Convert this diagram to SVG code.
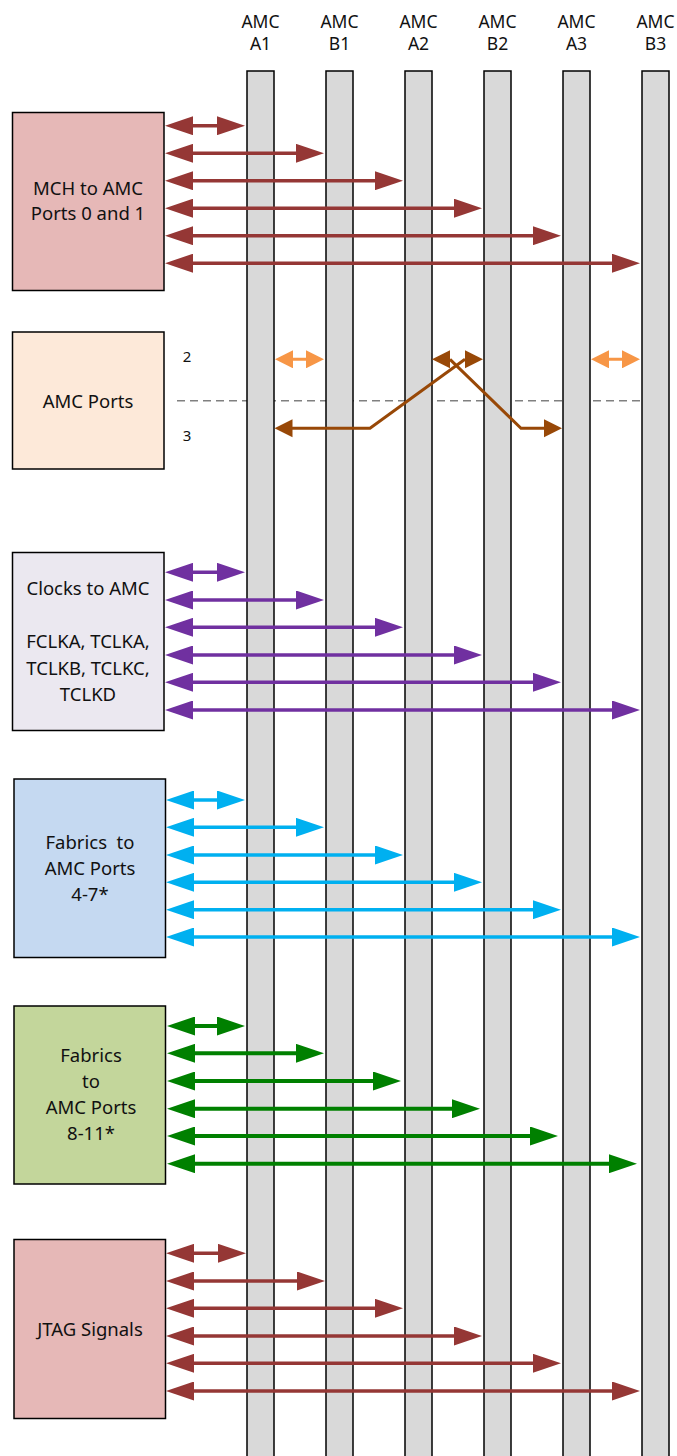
<svg xmlns="http://www.w3.org/2000/svg" width="677" height="1456" viewBox="0 0 677 1456">
<style>
  text { font-family: "Noto Sans", "Open Sans", sans-serif; fill: #111; text-anchor: middle; }
  .hdr { font-size: 17.5px; }
  .lbl { font-size: 18.5px; }
  .num { font-size: 15px; }
  .box { stroke: #000; stroke-width: 1.5; }
  .bar { fill: #D9D9D9; stroke: #000; stroke-width: 1.5; }
  .red { stroke: #953735; stroke-width: 3.5; fill: none; marker-start: url(#mRed); marker-end: url(#mRed); }
  .pur { stroke: #7030A0; stroke-width: 3.5; fill: none; marker-start: url(#mPur); marker-end: url(#mPur); }
  .blu { stroke: #00B0F0; stroke-width: 3.5; fill: none; marker-start: url(#mBlu); marker-end: url(#mBlu); }
  .grn { stroke: #008000; stroke-width: 4; fill: none; marker-start: url(#mGrn); marker-end: url(#mGrn); }
  .org { stroke: #F79646; stroke-width: 3; fill: none; marker-start: url(#mOrg); marker-end: url(#mOrg); }
  .brn { stroke: #984807; stroke-width: 3; fill: none; }
</style>
<defs>
  <marker id="mRed" markerUnits="userSpaceOnUse" markerWidth="28" markerHeight="19" refX="18" refY="9.5" orient="auto-start-reverse"><path d="M0,0 L28,9.5 L0,19 z" fill="#953735"/></marker>
  <marker id="mPur" markerUnits="userSpaceOnUse" markerWidth="28" markerHeight="19" refX="18" refY="9.5" orient="auto-start-reverse"><path d="M0,0 L28,9.5 L0,19 z" fill="#7030A0"/></marker>
  <marker id="mBlu" markerUnits="userSpaceOnUse" markerWidth="28" markerHeight="19" refX="18" refY="9.5" orient="auto-start-reverse"><path d="M0,0 L28,9.5 L0,19 z" fill="#00B0F0"/></marker>
  <marker id="mGrn" markerUnits="userSpaceOnUse" markerWidth="28" markerHeight="19" refX="18" refY="9.5" orient="auto-start-reverse"><path d="M0,0 L28,9.5 L0,19 z" fill="#008000"/></marker>
  <marker id="mOrg" markerUnits="userSpaceOnUse" markerWidth="18" markerHeight="18" refX="12" refY="9" orient="auto-start-reverse"><path d="M0,0 L18,9 L0,18 z" fill="#F79646"/></marker>
</defs>
<rect width="677" height="1456" fill="#fff"/>

<g id="headers">
  <text class="hdr" x="260.5" y="28">AMC</text><text class="hdr" x="260.5" y="50">A1</text>
  <text class="hdr" x="339.5" y="28">AMC</text><text class="hdr" x="339.5" y="50">B1</text>
  <text class="hdr" x="418.5" y="28">AMC</text><text class="hdr" x="418.5" y="50">A2</text>
  <text class="hdr" x="497.5" y="28">AMC</text><text class="hdr" x="497.5" y="50">B2</text>
  <text class="hdr" x="576.5" y="28">AMC</text><text class="hdr" x="576.5" y="50">A3</text>
  <text class="hdr" x="655.5" y="28">AMC</text><text class="hdr" x="655.5" y="50">B3</text>
</g>

<line id="divider" x1="177" y1="400.7" x2="640" y2="400.7" stroke="#808080" stroke-width="1.5" stroke-dasharray="8,5"/>

<g id="bars">
  <rect id="barA1" class="bar" x="247" y="71" width="27" height="1400"/>
  <rect id="barB1" class="bar" x="326" y="71" width="27" height="1400"/>
  <rect id="barA2" class="bar" x="405" y="71" width="27" height="1400"/>
  <rect id="barB2" class="bar" x="484" y="71" width="27" height="1400"/>
  <rect id="barA3" class="bar" x="563" y="71" width="27" height="1400"/>
  <rect id="barB3" class="bar" x="642" y="71" width="27" height="1400"/>
</g>

<g id="mch">
  <rect class="box" x="12.5" y="112.5" width="151.5" height="178" fill="#E6B8B7"/>
  <text class="lbl" x="88" y="195">MCH to AMC</text>
  <text class="lbl" x="88" y="220">Ports 0 and 1</text>
</g>
<g id="amcports">
  <rect class="box" x="12.5" y="332" width="151.5" height="137" fill="#FDE9D9"/>
  <text class="lbl" x="88" y="408">AMC Ports</text>
  <text class="num" x="187" y="362">2</text>
  <text class="num" x="187" y="440.5">3</text>
</g>
<g id="clocks">
  <rect class="box" x="12.5" y="552.5" width="151.5" height="178" fill="#EBE8F0"/>
  <text class="lbl" x="88" y="595">Clocks to AMC</text>
  <text class="lbl" x="88" y="648">FCLKA, TCLKA,</text>
  <text class="lbl" x="88" y="675">TCLKB, TCLKC,</text>
  <text class="lbl" x="88" y="701">TCLKD</text>
</g>
<g id="fabrics47">
  <rect class="box" x="14" y="779" width="151.5" height="178.5" fill="#C5D9F1"/>
  <text class="lbl" x="90" y="849" xml:space="preserve">Fabrics  to</text>
  <text class="lbl" x="90" y="875">AMC Ports</text>
  <text class="lbl" x="90" y="901">4-7*</text>
</g>
<g id="fabrics811">
  <rect class="box" x="14" y="1006" width="151.5" height="178" fill="#C3D69B"/>
  <text class="lbl" x="91" y="1062">Fabrics</text>
  <text class="lbl" x="91" y="1088">to</text>
  <text class="lbl" x="91" y="1114">AMC Ports</text>
  <text class="lbl" x="91" y="1140">8-11*</text>
</g>
<g id="jtag">
  <rect class="box" x="14" y="1239.5" width="151.5" height="179" fill="#E6B8B7"/>
  <text class="lbl" x="90" y="1336">JTAG Signals</text>
</g>

<g id="connectors">
  <!-- MCH -->
  <line class="red" x1="175" y1="125.7" x2="235" y2="125.7"/>
  <line class="red" x1="175" y1="153.3" x2="314" y2="153.3"/>
  <line class="red" x1="175" y1="180.7" x2="393" y2="180.7"/>
  <line class="red" x1="175" y1="208.2" x2="472" y2="208.2"/>
  <line class="red" x1="175" y1="235.7" x2="551" y2="235.7"/>
  <line class="red" x1="175" y1="263.2" x2="630" y2="263.2"/>
  <!-- AMC ports -->
  <line class="org" x1="281" y1="359.3" x2="318" y2="359.3"/>
  <line class="org" x1="597" y1="359.3" x2="634" y2="359.3"/>
  <polyline class="brn" points="290,428.3 370,428.3 465,359.3"/>
  <polyline class="brn" points="450,359.3 521,428.3 545,428.3"/>
  <path d="M274.5,428.3 L292.5,419.3 L292.5,437.3 z" fill="#984807"/>
  <path d="M432,359.3 L450,350.3 L450,368.3 z" fill="#984807"/>
  <path d="M483,359.3 L465,350.3 L465,368.3 z" fill="#984807"/>
  <path d="M562,428.3 L544,419.3 L544,437.3 z" fill="#984807"/>
  <!-- Clocks -->
  <line class="pur" x1="175" y1="572.3" x2="235" y2="572.3"/>
  <line class="pur" x1="175" y1="600" x2="314" y2="600"/>
  <line class="pur" x1="175" y1="627.3" x2="393" y2="627.3"/>
  <line class="pur" x1="175" y1="655" x2="472" y2="655"/>
  <line class="pur" x1="175" y1="682.3" x2="551" y2="682.3"/>
  <line class="pur" x1="175" y1="710" x2="630" y2="710"/>
  <!-- Fabrics 4-7 -->
  <line class="blu" x1="176" y1="800" x2="235" y2="800"/>
  <line class="blu" x1="176" y1="827.3" x2="314" y2="827.3"/>
  <line class="blu" x1="176" y1="855" x2="393" y2="855"/>
  <line class="blu" x1="176" y1="882.3" x2="472" y2="882.3"/>
  <line class="blu" x1="176" y1="909.7" x2="551" y2="909.7"/>
  <line class="blu" x1="176" y1="937" x2="630" y2="937"/>
  <!-- Fabrics 8-11 -->
  <line class="grn" x1="177" y1="1026" x2="235" y2="1026"/>
  <line class="grn" x1="177" y1="1053.3" x2="314" y2="1053.3"/>
  <line class="grn" x1="177" y1="1081" x2="391" y2="1081"/>
  <line class="grn" x1="177" y1="1108.7" x2="470" y2="1108.7"/>
  <line class="grn" x1="177" y1="1136" x2="548" y2="1136"/>
  <line class="grn" x1="177" y1="1163.7" x2="627" y2="1163.7"/>
  <!-- JTAG -->
  <line class="red" x1="176" y1="1253.3" x2="236" y2="1253.3"/>
  <line class="red" x1="176" y1="1281" x2="315" y2="1281"/>
  <line class="red" x1="176" y1="1308.3" x2="393" y2="1308.3"/>
  <line class="red" x1="176" y1="1336" x2="472" y2="1336"/>
  <line class="red" x1="176" y1="1363.3" x2="551" y2="1363.3"/>
  <line class="red" x1="176" y1="1391" x2="630" y2="1391"/>
</g>
</svg>
